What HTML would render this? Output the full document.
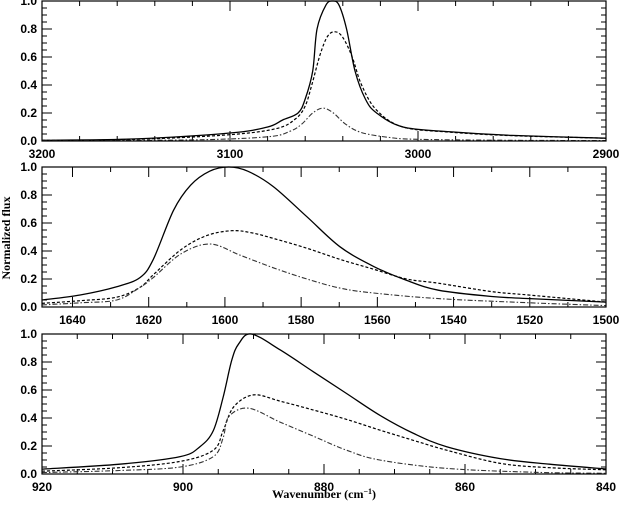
<!DOCTYPE html>
<html><head><meta charset="utf-8"><style>
body{margin:0;background:#fff}
svg{display:block}
text{font-family:"Liberation Sans",sans-serif;font-weight:bold;fill:#000}
</style></head><body>
<svg id="c" width="621" height="509"></svg>
<script>
// Panel 1 (C-H stretch)
const p1Solid=[[3200,0.005],[3150,0.015],[3100,0.057],[3080,0.1],[3072,0.15],[3063.8,0.2],[3060,0.3],[3056,0.5],[3053.7,0.8],[3049,0.97],[3045.4,1.0],[3042,0.97],[3038,0.8],[3033.5,0.5],[3028,0.3],[3022,0.2],[3008,0.1],[2983,0.066],[2950,0.04],[2900,0.02]];
const p1Dash=[[3200,0.004],[3150,0.012],[3100,0.045],[3075,0.09],[3065,0.16],[3060,0.25],[3056.5,0.4],[3052,0.62],[3048,0.75],[3044,0.78],[3040,0.74],[3035,0.6],[3030,0.4],[3022,0.22],[3008,0.1],[2983,0.063],[2950,0.038],[2900,0.02]];
const p1DotDash=[[3200,0.002],[3120,0.008],[3080,0.03],[3068,0.07],[3061.9,0.12],[3056,0.2],[3050.5,0.235],[3045,0.2],[3038.5,0.12],[3030,0.06],[3015,0.025],[3000,0.012],[2950,0.005],[2900,0.003]];
// Panel 2 (C=C stretch)
const p2Solid=[[1648,0.05],[1638,0.086],[1628.4,0.145],[1622.3,0.21],[1618.8,0.34],[1613.5,0.69],[1609,0.87],[1604,0.97],[1599,1.0],[1594,0.97],[1587.3,0.86],[1578.5,0.645],[1569.8,0.43],[1561,0.29],[1552.3,0.19],[1544,0.12],[1530,0.075],[1520,0.06],[1500,0.035]];
const p2Dash=[[1648,0.026],[1638,0.045],[1628.4,0.07],[1622.3,0.14],[1618.8,0.23],[1611.5,0.41],[1604.8,0.51],[1598.2,0.545],[1593,0.53],[1587.3,0.49],[1578.5,0.42],[1569.8,0.34],[1561,0.27],[1552.3,0.2],[1544,0.17],[1530,0.11],[1520,0.085],[1500,0.035]];
const p2DotDash=[[1648,0.015],[1638,0.03],[1628.4,0.05],[1622.3,0.14],[1618.8,0.21],[1611.5,0.38],[1603.9,0.45],[1596,0.37],[1587.3,0.28],[1578.5,0.2],[1569.8,0.135],[1561,0.1],[1544,0.06],[1520,0.03],[1500,0.01]];
// Panel 3 (C-H bend)
const p3Solid=[[920,0.035],[909,0.07],[900.4,0.124],[897.6,0.195],[895.7,0.31],[894.3,0.55],[893.1,0.81],[892.1,0.93],[890.3,1.0],[886.2,0.886],[881.5,0.73],[876.8,0.575],[872.1,0.42],[867.3,0.29],[862.6,0.195],[855,0.11],[848,0.07],[840,0.036]];
const p3Dash=[[920,0.02],[909,0.045],[900.4,0.09],[895.7,0.17],[894.3,0.31],[892.8,0.48],[890,0.565],[886.2,0.52],[881.5,0.457],[876.8,0.39],[872.1,0.314],[867.3,0.24],[862.6,0.17],[855,0.076],[848,0.045],[840,0.03]];
const p3DotDash=[[920,0.01],[909,0.025],[900.4,0.05],[895.7,0.124],[894.3,0.26],[893.5,0.41],[890.7,0.47],[886.2,0.37],[881.5,0.27],[876.8,0.17],[872.1,0.1],[862.6,0.04],[850,0.012],[840,0.005]];
const p1Ticks=[3200,3100,3000,2900];
const p2Ticks=[1640,1620,1600,1580,1560,1540,1520,1500];
const p3Ticks=[920,900,880,860,840];
const yTicks=[0.0,0.2,0.4,0.6,0.8,1.0];

const NS="http://www.w3.org/2000/svg";
const svg=document.getElementById('c');
function el(t,a,p){const e=document.createElementNS(NS,t);for(const k in a)e.setAttribute(k,a[k]);(p||svg).appendChild(e);return e;}
const L=42,R=606;
const panels=[
 {name:'ch-stretch',x0:3200,x1:2900,top:1,bot:141,ticks:p1Ticks,minor:20,series:[p1Solid,p1Dash,p1DotDash]},
 {name:'cc-stretch',x0:1648,x1:1500,top:167,bot:307,ticks:p2Ticks,minor:10,series:[p2Solid,p2Dash,p2DotDash]},
 {name:'ch-bend',x0:920,x1:840,top:334,bot:474,ticks:p3Ticks,minor:5,series:[p3Solid,p3Dash,p3DotDash]}
];
const styles=[{d:'',w:1.3,c:'#000',n:'solid-line'},{d:'3,2',w:1.2,c:'#000',n:'dashed-line'},{d:'5,2,1.5,2',w:1.1,c:'#333',n:'dot-dash-line'}];
function path(pts){let s='M'+pts[0][0]+','+pts[0][1];for(let i=0;i<pts.length-1;i++){const p0=pts[i-1]||pts[i],p1=pts[i],p2=pts[i+1],p3=pts[i+2]||p2;const c1x=p1[0]+(p2[0]-p0[0])/6,c1y=p1[1]+(p2[1]-p0[1])/6,c2x=p2[0]-(p3[0]-p1[0])/6,c2y=p2[1]-(p3[1]-p1[1])/6;s+=' C'+c1x.toFixed(2)+','+c1y.toFixed(2)+' '+c2x.toFixed(2)+','+c2y.toFixed(2)+' '+p2[0].toFixed(2)+','+p2[1].toFixed(2);}return s;}
panels.forEach(P=>{
 const g=el('g',{});
 
 
 const xs=w=>L+(P.x0-w)/(P.x0-P.x1)*(R-L);
 const ys=v=>P.bot-v*(P.bot-P.top);
 const step=P.x0>P.x1?-P.minor:P.minor;
 let tk='';
 const lo=Math.min(P.x0,P.x1),hi=Math.max(P.x0,P.x1);
 for(let w=Math.ceil(lo/P.minor)*P.minor;w<=hi+1e-9;w+=P.minor){const x=xs(w);const major=Math.abs(w/(P.ticks[0]-P.ticks[1]) - Math.round(w/(P.ticks[0]-P.ticks[1])))<1e-6;const len=major?10:5;tk+=`M${x},${P.bot}v${-len}M${x},${P.top}v${len}`;}
 for(let v=0;v<=1.0001;v+=0.05){const y=ys(v);const major=Math.abs(v*5-Math.round(v*5))<1e-6;const len=major?10:5;tk+=`M${L},${y}h${len}M${R},${y}h${-len}`;}
 const t=el('path',{d:tk,stroke:'#000','stroke-width':1,fill:'none'},g);
 
 
 P.series.forEach((s,i)=>{const st=styles[i];const p=el('path',{d:path(s.map(q=>[xs(q[0]),ys(q[1])])),stroke:st.c,'stroke-width':st.w,fill:'none','stroke-dasharray':st.d},g);
  
  });
 const f=el('rect',{x:L,y:P.top,width:R-L,height:P.bot-P.top,fill:'none',stroke:'#000','stroke-width':1.2},g);
 
 
 P.ticks.forEach(w=>{const tx=el('text',{x:xs(w),y:P.bot+17,'text-anchor':'middle','font-size':12},g);tx.textContent=w;
  
  });
 yTicks.forEach(v=>{const tx=el('text',{x:37,y:ys(v)+4,'text-anchor':'end','font-size':12},g);tx.textContent=v.toFixed(1);
  
  });
});
</script>
<svg width="0" height="0"></svg>
<div style="position:absolute;left:0;top:0;width:621px;height:509px;pointer-events:none">
<svg width="621" height="509" style="position:absolute;left:0;top:0">
<text x="10" y="238" transform="rotate(-90 10 238)" text-anchor="middle" font-size="12" style="font-family:'Liberation Serif',serif;font-weight:bold">Normalized flux</text>
<text x="324" y="498" text-anchor="middle" font-size="12" style="font-family:'Liberation Serif',serif;font-weight:bold">Wavenumber (cm<tspan baseline-shift="super" font-size="8">−1</tspan>)</text>
</svg></div>
</body></html>
